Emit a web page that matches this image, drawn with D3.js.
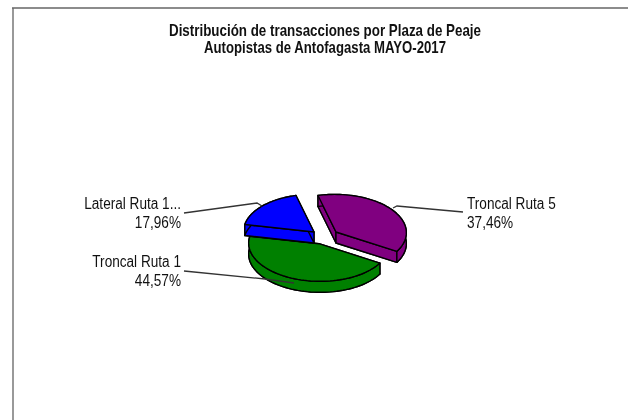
<!DOCTYPE html>
<html><head><meta charset="utf-8">
<script src="https://cdn.jsdelivr.net/npm/d3@7/dist/d3.min.js"></script>
<style>html,body{margin:0;padding:0;background:#fff}svg{display:block;filter:blur(0.35px)}text{font-family:"Liberation Sans",Arial,sans-serif;fill:#111}</style>
</head><body><svg id="c" width="628" height="420"></svg>
<script>
const titleLines = ["Distribución de transacciones por Plaza de Peaje", "Autopistas de Antofagasta MAYO-2017"];
const categories = ["Troncal Ruta 5", "Troncal Ruta 1", "Lateral Ruta 1..."];
const percents = [37.46, 44.57, 17.96];
const percentLabels = ["37,46%", "44,57%", "17,96%"];
const colors = ["#800080", "#008000", "#0000ff"];

const svg = d3.select("#c");
// frame
svg.append("path").attr("d", "M13,420V8").attr("fill", "none").attr("stroke", "#999").attr("stroke-width", 2);
svg.append("path").attr("d", "M12,8H628").attr("fill", "none").attr("stroke", "#666").attr("stroke-width", 1.4);

// projection of the tilted pie disc
const proj = {ax: -18, ay: -36.5, bx: 68, by: -9};
const depth = 11;
const apex = [[336, 232], [319, 243.7], [314, 232]];
const labelLayout = [
  {x: 467, y: 203, anchor: "start", leader: [[463, 212], [397, 206], [393, 208]]},
  {x: 181, y: 261, anchor: "end", leader: [[184, 271], [265, 279], [294, 283]]},
  {x: 181, y: 203, anchor: "end", leader: [[184, 213], [257, 203], [262, 206]]}
];
const arcs = d3.pie().sort(null).startAngle(0).endAngle(2 * Math.PI)(percents);
const line = d3.line();
function pt(c, t, dy = 0) {
  return [c[0] + proj.ax * Math.cos(t) + proj.bx * Math.sin(t),
          c[1] + proj.ay * Math.cos(t) + proj.by * Math.sin(t) + dy];
}
function arcPts(c, a, b, dy = 0) {
  return d3.range(0, 61).map(i => pt(c, a + (b - a) * i / 60, dy));
}
function drawSlice(i) {
  const c = apex[i], a = arcs[i].startAngle, b = arcs[i].endAngle, col = colors[i];
  const g = svg.append("g").attr("fill", col).attr("stroke", "#000").attr("stroke-width", 1.4).attr("stroke-linejoin", "round");
  const top = arcPts(c, a, b), bot = arcPts(c, a, b, depth);
  const shift = p => [p[0], p[1] + depth];
  g.append("path").attr("d", line([shift(c), ...bot]) + "Z");
  [top[0], top[60]].forEach(p => {
    g.append("path").attr("d", line([c, p, shift(p), shift(c)]) + "Z");
  });
  g.append("path").attr("d", line([...top, ...bot.slice().reverse()]) + "Z");
  g.append("path").attr("d", line([c, ...top]) + "Z");
}
[1, 2, 0].forEach(drawSlice);

function squeeze(sel, factor) {
  sel.each(function () {
    d3.select(this).attr("textLength", this.getComputedTextLength() * factor).attr("lengthAdjust", "spacingAndGlyphs");
  });
}
// leaders and labels
labelLayout.forEach((l, i) => {
  svg.append("path").attr("d", line(l.leader)).attr("fill", "none").attr("stroke", "#333").attr("stroke-width", 1.3);
  [categories[i], percentLabels[i]].forEach((s, j) => {
    svg.append("text").attr("text-anchor", l.anchor).attr("font-size", 16).attr("x", l.x).attr("y", l.y + 5.5 + j * 19).text(s)
      .call(squeeze, 0.85);
  });
});

// title
titleLines.forEach((s, i) => {
  svg.append("text").attr("x", 325).attr("y", 36 + i * 17).attr("text-anchor", "middle")
    .attr("font-size", 16.5).attr("font-weight", "bold").attr("textLength", i ? 242 : 312)
    .attr("lengthAdjust", "spacingAndGlyphs").text(s);
});
</script></body></html>
